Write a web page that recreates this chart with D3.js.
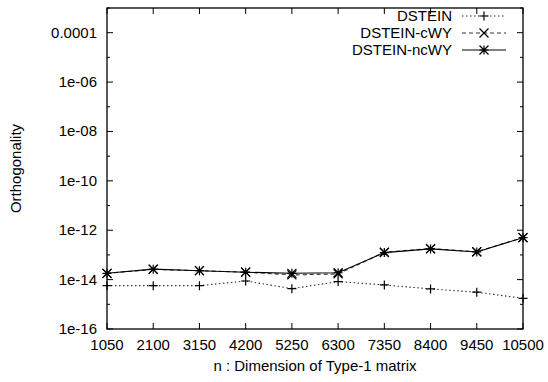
<!DOCTYPE html>
<html>
<head>
<meta charset="utf-8">
<script src="https://cdn.jsdelivr.net/npm/d3@7"></script>
<style>
  body { margin: 0; background: #fff; }
  text { font-family: "Liberation Sans", Arial, sans-serif; font-size: 15px; fill: #000; }
</style>
</head>
<body>
<div id="chartDiv"></div>
<script>
(function() {

	var width = 548;
	var height = 382;
	var margin = { top: 8, right: 25, bottom: 53, left: 107 };

	// data
	var sizes = [1050, 2100, 3150, 4200, 5250, 6300, 7350, 8400, 9450, 10500];
	var dstein = [5.7e-15, 5.7e-15, 5.7e-15, 8.8e-15, 4.3e-15, 8.3e-15, 6.1e-15, 4.2e-15, 3.1e-15, 1.75e-15];
	var dsteinCwy = [1.8e-14, 2.6e-14, 2.3e-14, 2.0e-14, 1.55e-14, 1.7e-14, 1.3e-13, 1.8e-13, 1.35e-13, 5.0e-13];
	var dsteinNcwy = [1.8e-14, 2.65e-14, 2.3e-14, 2.0e-14, 1.8e-14, 1.9e-14, 1.24e-13, 1.75e-13, 1.32e-13, 5.0e-13];
	var seriesNames = ["DSTEIN", "DSTEIN-cWY", "DSTEIN-ncWY"];
	var yTickValues = [1e-16, 1e-14, 1e-12, 1e-10, 1e-8, 1e-6, 1e-4];
	var yTickLabels = ["1e-16", "1e-14", "1e-12", "1e-10", "1e-08", "1e-06", "0.0001"];
	var yMinorValues = [1e-15, 1e-13, 1e-11, 1e-9, 1e-7, 1e-5, 1e-3];
	var xAxisLabelHeader = "n : Dimension of Type-1 matrix";
	var yAxisLabelHeader = "Orthogonality";

	var chartWidth = width - margin.left - margin.right;
	var chartHeight = height - margin.top - margin.bottom;

	var svg = d3.select("#chartDiv").append("svg")
		.attr("width", width)
		.attr("height", height);

	var xScale = d3.scaleLinear()
		.domain([sizes[0], sizes[sizes.length - 1]])
		.range([margin.left, margin.left + chartWidth]);

	var yScale = d3.scaleLog()
		.domain([1e-16, 1e-3])
		.range([margin.top + chartHeight, margin.top]);

	// ticks, drawn inward on all four sides (gnuplot mirror style)
	var ticks = svg.append("g").attr("stroke", "#000").attr("stroke-width", 1);

	sizes.forEach(function(v) {
		var x = xScale(v);
		ticks.append("line").attr("x1", x).attr("x2", x)
			.attr("y1", margin.top + chartHeight).attr("y2", margin.top + chartHeight - 6);
		ticks.append("line").attr("x1", x).attr("x2", x)
			.attr("y1", margin.top).attr("y2", margin.top + 6);
	});

	yTickValues.forEach(function(v) {
		var y = yScale(v);
		ticks.append("line").attr("x1", margin.left).attr("x2", margin.left + 6).attr("y1", y).attr("y2", y);
		ticks.append("line").attr("x1", margin.left + chartWidth).attr("x2", margin.left + chartWidth - 6).attr("y1", y).attr("y2", y);
	});

	yMinorValues.forEach(function(v) {
		var y = yScale(v);
		ticks.append("line").attr("x1", margin.left).attr("x2", margin.left + 3).attr("y1", y).attr("y2", y);
		ticks.append("line").attr("x1", margin.left + chartWidth).attr("x2", margin.left + chartWidth - 3).attr("y1", y).attr("y2", y);
	});

	// tick labels
	svg.append("g").selectAll("text")
		.data(sizes)
		.enter().append("text")
			.attr("x", function(d) { return xScale(d); })
			.attr("y", margin.top + chartHeight + 21)
			.attr("text-anchor", "middle")
			.text(function(d) { return d; });

	svg.append("g").selectAll("text")
		.data(yTickValues)
		.enter().append("text")
			.attr("x", margin.left - 10)
			.attr("y", function(d) { return yScale(d) + 5; })
			.attr("text-anchor", "end")
			.text(function(d, i) { return yTickLabels[i]; });

	// axis titles
	svg.append("text")
		.attr("x", margin.left + chartWidth / 2)
		.attr("y", 371)
		.attr("text-anchor", "middle")
		.text(xAxisLabelHeader);

	svg.append("text")
		.attr("text-anchor", "middle")
		.attr("transform", "translate(21," + (margin.top + chartHeight / 2) + ") rotate(-90)")
		.text(yAxisLabelHeader);

	// series
	var series = [
		{ name: seriesNames[0], values: dstein, dash: "1.5,2.5", stroke: "#333", marker: "plus" },
		{ name: seriesNames[1], values: dsteinCwy, dash: "4,3", stroke: "#333", marker: "cross" },
		{ name: seriesNames[2], values: dsteinNcwy, dash: null, stroke: "#000", marker: "star" }
	];

	var line = d3.line()
		.x(function(d) { return xScale(d.x); })
		.y(function(d) { return yScale(d.y); });

	function markerPath(m, r) {
		var p = "";
		if (m === "plus" || m === "star") {
			p += "M" + (-r) + ",0H" + r + "M0," + (-r) + "V" + r;
		}
		if (m === "cross" || m === "star") {
			p += "M" + (-r) + "," + (-r) + "L" + r + "," + r + "M" + (-r) + "," + r + "L" + r + "," + (-r);
		}
		return p;
	}

	var plotArea = svg.append("g");

	series.forEach(function(s) {
		var pts = s.values.map(function(v, i) { return { x: sizes[i], y: v }; });
		plotArea.append("path")
			.datum(pts)
			.attr("fill", "none")
			.attr("stroke", s.stroke)
			.attr("stroke-width", 1.1)
			.attr("stroke-dasharray", s.dash)
			.attr("d", line);
		plotArea.selectAll(".m-" + s.marker)
			.data(pts)
			.enter().append("path")
				.attr("class", "m-" + s.marker)
				.attr("transform", function(d) { return "translate(" + xScale(d.x) + "," + yScale(d.y) + ")"; })
				.attr("d", markerPath(s.marker, s.marker === "plus" ? 4.5 : 4.5))
				.attr("fill", "none")
				.attr("stroke", "#000")
				.attr("stroke-width", 1.2);
	});

	// legend
	var legend = svg.append("g");
	series.forEach(function(s, i) {
		var cy = 16 + i * 17;
		legend.append("text")
			.attr("x", 452)
			.attr("y", cy + 5)
			.attr("text-anchor", "end")
			.text(s.name);
		legend.append("line")
			.attr("x1", 462).attr("x2", 506)
			.attr("y1", cy).attr("y2", cy)
			.attr("stroke", s.stroke)
			.attr("stroke-width", 1.1)
			.attr("stroke-dasharray", s.dash);
		legend.append("path")
			.attr("transform", "translate(484," + cy + ")")
			.attr("d", markerPath(s.marker, 4.5))
			.attr("fill", "none")
			.attr("stroke", "#000")
			.attr("stroke-width", 1.2);
	});

	// frame
	svg.append("rect")
		.attr("x", margin.left)
		.attr("y", margin.top)
		.attr("width", chartWidth)
		.attr("height", chartHeight)
		.attr("fill", "none")
		.attr("stroke", "#000")
		.attr("stroke-width", 1.3);

})();
</script>
</body>
</html>
